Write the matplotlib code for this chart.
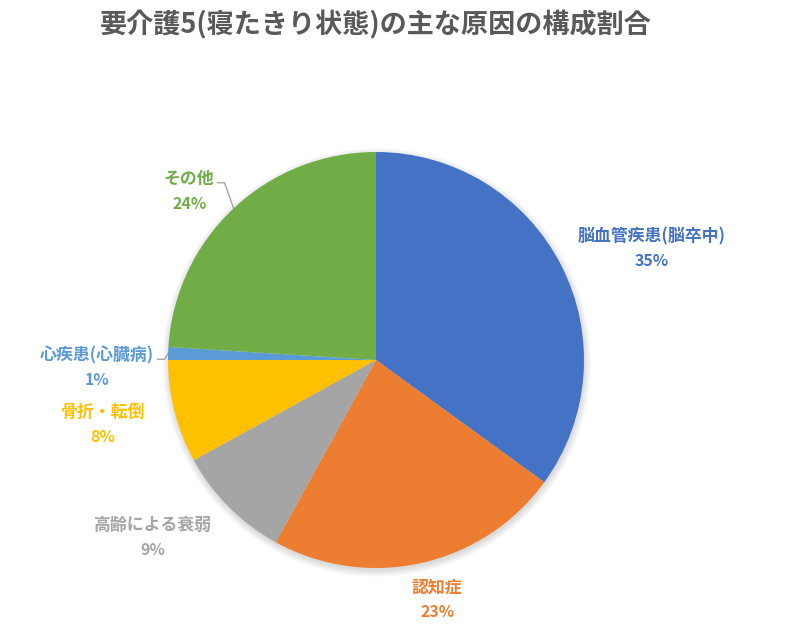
import numpy as np
import matplotlib.pyplot as plt

plt.rcParams['font.family'] = ['Noto Sans CJK JP', 'DejaVu Sans']

# data
labels = ['脳血管疾患(脳卒中)', '認知症', '高齢による衰弱', '骨折・転倒', '心疾患(心臓病)', 'その他']
values = [35, 23, 9, 8, 1, 24]
colors = ['#4472C4', '#ED7D31', '#A5A5A5', '#FFC000', '#5B9BD5', '#70AD47']
title = '要介護5(寝たきり状態)の主な原因の構成割合'

# label placement (radius, angle offset in deg) and whether a leader line is drawn
label_pos = [(1.43, -5.0), (1.19, 1.7), (1.37, -6.6), (1.35, -1.2), (1.34, 3.4), (1.21, 4.7)]
leader = [False, False, False, False, True, True]

fig = plt.figure(figsize=(8, 6.29), dpi=100)
ax = fig.add_axes([0, 0, 1, 1])

R = 208.0  # pie radius in px
cx, cy = 376.0, 360.0

# faint shadow behind the pie
for k in range(6):
    ax.add_patch(plt.Circle((0.004, -0.012), 1.0 + 0.006 * k, color='#000000',
                            alpha=0.025, lw=0, zorder=0))

wedges, _ = ax.pie(values, colors=colors, startangle=90, counterclock=False,
                   radius=1.0, wedgeprops=dict(linewidth=0))
for w in wedges:
    w.set_zorder(2)

ax.set_xlim(-cx / R, (800 - cx) / R)
ax.set_ylim(-(629 - cy) / R, cy / R)
ax.set_aspect('auto')
ax.axis('off')

dy = 12.5 / R
name_texts = []
for i, w in enumerate(wedges):
    mid = (w.theta1 + w.theta2) / 2.0
    r, off = label_pos[i]
    a = np.deg2rad(mid + off)
    x, y = r * np.cos(a), r * np.sin(a)
    c = colors[i]
    t = ax.text(x, y + dy, labels[i], ha='center', va='center', fontsize=12.2,
                fontweight='bold', color=c)
    ax.text(x, y - dy, f'{values[i]}%', ha='center', va='center', fontsize=11.5,
            fontweight='bold', color=c)
    name_texts.append((t, mid))

fig.canvas.draw()
renderer = fig.canvas.get_renderer()
inv = ax.transData.inverted()
for i, (t, mid) in enumerate(name_texts):
    if not leader[i]:
        continue
    bb = t.get_window_extent(renderer)
    x1, ym = inv.transform((bb.x1 + 3, (bb.y0 + bb.y1) / 2 - 4))
    x2, _ = inv.transform((bb.x1 + 10, 0))
    a = np.deg2rad(mid)
    ex, ey = np.cos(a), np.sin(a)
    ax.plot([ex, x2, x1], [ey, ym, ym], color='#A6A6A6', lw=1, zorder=1)

fig.text(cx / 800, 1 - 25 / 629, title, ha='center', va='center', fontsize=19.5,
         fontweight='bold', color='#595959')

fig.savefig('out.png', dpi=100, facecolor='white')
